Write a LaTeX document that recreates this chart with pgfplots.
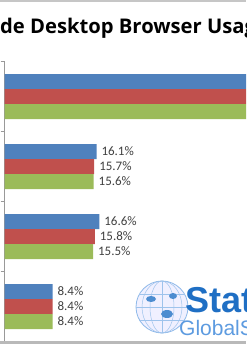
\documentclass[border=0pt]{standalone}
\usepackage{fontspec}
\setmainfont{Carlito}
\newfontfamily\logofont{Liberation Sans}
\newfontfamily\titlefont{Open Sans}
\usepackage{pgfplots}
\pgfplotsset{compat=1.18}
\definecolor{cblue}{HTML}{4F81BD}
\definecolor{cred}{HTML}{C0504D}
\definecolor{cgreen}{HTML}{9BBB59}
\definecolor{lbl}{HTML}{404040}
\definecolor{logoblue}{HTML}{1F6FC4}
\definecolor{logolight}{HTML}{5D9BE0}
\begin{document}
\begin{tikzpicture}[x=1pt,y=1pt]
\useasboundingbox (0,0) rectangle (246,344);
\clip (0,0) rectangle (246,344);
\fill[white] (0,0) rectangle (246,344);
\begin{axis}[
  at={(8,3.5)}, anchor=south west,
  scale only axis, width=342.6pt, height=280pt,
  xmin=0, xmax=60, ymin=-0.5, ymax=3.5,
  xbar, bar width=15pt,
  axis x line=none, axis y line*=left,
  ytick={-0.5,0.5,1.5,2.5,3.5}, yticklabels={},
  tick align=outside, major tick length=4pt,
  y axis line style={draw=gray!80},
  ytick style={draw=gray!80},
  clip=false,
  point meta=explicit symbolic,
  nodes near coords,
  every node near coord/.append style={font=\fontsize{13}{15}\selectfont, text=lbl, anchor=west, xshift=1.5pt},
]
\addplot[draw=none, fill=cblue, bar shift=15pt] coordinates {(52.3,3) [] (16.1,2) [16.1\%] (16.6,1) [16.6\%] (8.4,0) [8.4\%]};
\addplot[draw=none, fill=cred, bar shift=0pt] coordinates {(51.8,3) [] (15.7,2) [15.7\%] (15.8,1) [15.8\%] (8.4,0) [8.4\%]};
\addplot[draw=none, fill=cgreen, bar shift=-15pt] coordinates {(51.4,3) [] (15.6,2) [15.6\%] (15.5,1) [15.5\%] (8.4,0) [8.4\%]};
\end{axis}
% title
\node[anchor=base west, inner sep=0pt, font=\titlefont\bfseries\fontsize{20.2}{22}\selectfont] at (0,310) {\llap{Worldwi}de Desktop Browser Usage};
% watermark logo
\begin{scope}
\fill[blue!6] (162,37) circle (26);
\draw[logolight!70, line width=0.8pt] (162,37) circle (26);
\draw[logolight!60, line width=0.5pt] (162,37) ellipse (12 and 26);
\draw[logolight!60, line width=0.5pt] (162,37) ellipse (20 and 26);
\draw[logolight!60, line width=0.5pt] (162,11) -- (162,63);
\draw[logolight!60, line width=0.5pt] (136,37) -- (188,37);
\draw[logolight!60, line width=0.5pt] (139,50) -- (185,50);
\draw[logolight!60, line width=0.5pt] (139,24) -- (185,24);
\fill[logoblue!80] (151,45) ellipse (5 and 3);
\fill[logoblue!80] (167,30) ellipse (6 and 4);
\fill[logoblue!80] (173,48) ellipse (4 and 3);
\end{scope}
\node[anchor=base west, inner sep=0pt, font=\logofont\fontsize{36}{38}\selectfont\bfseries, text=logoblue] at (185,31) {Stat};
\node[anchor=base west, inner sep=0pt, font=\logofont\fontsize{21}{23}\selectfont, text=logolight] at (179,9) {GlobalStats};
% frame lines
\fill[gray!45] (0,342) rectangle (246,344);
\fill[gray!55] (0,0) rectangle (246,3);
\end{tikzpicture}
\end{document}
